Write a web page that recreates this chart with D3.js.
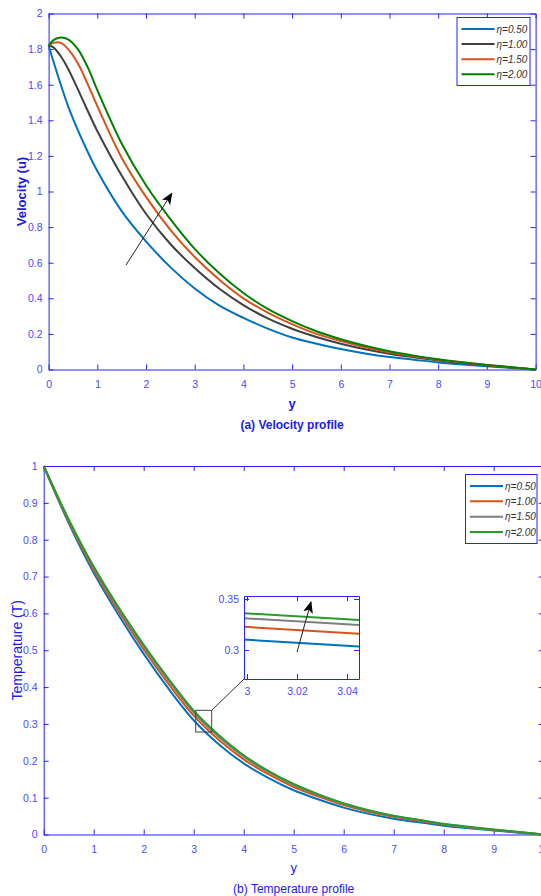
<!DOCTYPE html>
<html>
<head>
<meta charset="utf-8">
<script src="https://cdn.jsdelivr.net/npm/d3@7"></script>
<style>
  body { margin: 0; background: #fff; }
  svg { display: block; font-family: "Liberation Sans", Arial, Helvetica, sans-serif; }
</style>
</head>
<body>
<div id="chart"></div>
<script>
// ---------- data ----------
const etaLabels = ["η=0.50", "η=1.00", "η=1.50", "η=2.00"];

// (a) velocity profile
const velX = [0, 0.1, 0.25, 0.4, 0.6, 0.8, 1, 1.5, 2, 2.5, 3, 3.5, 4, 4.5, 5, 5.5, 6, 6.5, 7, 7.5, 8, 8.5, 9, 9.5, 10];
const velEta050 = [1.82, 1.73, 1.60, 1.48, 1.345, 1.225, 1.115, 0.89, 0.72, 0.575, 0.455, 0.36, 0.29, 0.23, 0.18, 0.145, 0.115, 0.09, 0.07, 0.055, 0.04, 0.028, 0.018, 0.009, 0];
const velEta100 = [1.82, 1.81, 1.76, 1.69, 1.575, 1.455, 1.34, 1.09, 0.875, 0.705, 0.57, 0.455, 0.362, 0.287, 0.229, 0.183, 0.145, 0.114, 0.089, 0.069, 0.051, 0.036, 0.023, 0.011, 0];
const velEta150 = [1.82, 1.835, 1.835, 1.80, 1.72, 1.605, 1.48, 1.19, 0.97, 0.785, 0.632, 0.506, 0.40, 0.32, 0.255, 0.20, 0.16, 0.125, 0.097, 0.074, 0.055, 0.039, 0.025, 0.012, 0];
const velEta200 = [1.82, 1.85, 1.865, 1.855, 1.80, 1.70, 1.57, 1.27, 1.035, 0.845, 0.678, 0.542, 0.43, 0.34, 0.272, 0.215, 0.17, 0.133, 0.102, 0.078, 0.058, 0.041, 0.026, 0.013, 0];
const velColors = ["#0072BD", "#404040", "#D95319", "#008000"];

// (b) temperature profile
const tempX = [0, 0.5, 1, 1.5, 2, 2.5, 3, 3.5, 4, 4.5, 5, 5.5, 6, 6.5, 7, 7.5, 8, 8.5, 9, 9.5, 10];
const tempEta050 = [1.0, 0.845, 0.71, 0.595, 0.49, 0.395, 0.31, 0.245, 0.193, 0.153, 0.12, 0.095, 0.073, 0.056, 0.043, 0.033, 0.024, 0.017, 0.011, 0.005, 0];
const tempEta100 = [1.0, 0.85, 0.718, 0.605, 0.502, 0.408, 0.3225, 0.257, 0.204, 0.163, 0.129, 0.103, 0.08, 0.062, 0.048, 0.037, 0.027, 0.019, 0.0125, 0.006, 0];
const tempEta150 = [1.0, 0.853, 0.724, 0.612, 0.51, 0.417, 0.331, 0.265, 0.211, 0.169, 0.134, 0.107, 0.083, 0.065, 0.05, 0.039, 0.028, 0.02, 0.013, 0.0065, 0];
const tempEta200 = [1.0, 0.855, 0.727, 0.616, 0.515, 0.422, 0.336, 0.27, 0.215, 0.172, 0.137, 0.109, 0.085, 0.066, 0.051, 0.04, 0.029, 0.021, 0.0135, 0.0068, 0];
const tempColors = ["#0072BD", "#D95319", "#7F7F7F", "#2B9A2B"];

// inset of (b)
const insetX = [2.998, 3.046];
const insetEta050 = [0.3103, 0.3033];
const insetEta100 = [0.3228, 0.3157];
const insetEta150 = [0.3313, 0.3242];
const insetEta200 = [0.3362, 0.3291];

// tick labels
const xTicks = [0, 1, 2, 3, 4, 5, 6, 7, 8, 9, 10];
const velYTicks = [0, 0.2, 0.4, 0.6, 0.8, 1, 1.2, 1.4, 1.6, 1.8, 2];
const tempYTicks = [0, 0.1, 0.2, 0.3, 0.4, 0.5, 0.6, 0.7, 0.8, 0.9, 1];
const insetXTicks = [3, 3.02, 3.04];
const insetYTicks = [0.3, 0.35];

// ---------- styles ----------
const AXIS = "#2323ff";
const TICKTXT = "#4a4aff";
const LABEL = "#1a1aee";

const svg = d3.select("#chart").append("svg")
  .attr("width", 541)
  .attr("height", 896);

const defs = svg.append("defs");
defs.append("marker")
  .attr("id", "head")
  .attr("viewBox", "0 0 12 10")
  .attr("refX", 11)
  .attr("refY", 5)
  .attr("markerWidth", 12)
  .attr("markerHeight", 10)
  .attr("markerUnits", "userSpaceOnUse")
  .attr("orient", "auto")
  .append("path")
  .attr("d", "M0,0 L12,5 L0,10 L3,5 Z")
  .attr("fill", "#000");

function styleAxis(sel, showText) {
  sel.select(".domain").attr("stroke", AXIS);
  sel.selectAll(".tick line").attr("stroke", AXIS);
  sel.selectAll(".tick text")
    .attr("fill", TICKTXT)
    .style("font-size", "10.5px")
    .style("display", showText ? null : "none");
}

function frame(x, y, xt, yt, pad) {
  const [x0, x1] = x.range();
  const [y0, y1] = y.range();
  const fmt = d3.format("~g");
  svg.append("g").attr("transform", `translate(0,${y0})`)
    .call(d3.axisBottom(x).tickValues(xt).tickFormat(fmt).tickSize(-5).tickSizeOuter(0).tickPadding(pad.x))
    .call(s => styleAxis(s, true));
  svg.append("g").attr("transform", `translate(0,${y1})`)
    .call(d3.axisTop(x).tickValues(xt).tickSize(-5).tickSizeOuter(0))
    .call(s => styleAxis(s, false));
  svg.append("g").attr("transform", `translate(${x0},0)`)
    .call(d3.axisLeft(y).tickValues(yt).tickFormat(fmt).tickSize(-5).tickSizeOuter(0).tickPadding(pad.y))
    .call(s => styleAxis(s, true));
  svg.append("g").attr("transform", `translate(${x1},0)`)
    .call(d3.axisRight(y).tickValues(yt).tickSize(-5).tickSizeOuter(0))
    .call(s => styleAxis(s, false));
}

function drawLines(g, xs, series, colors, x, y, width) {
  const line = d3.line()
    .x((d, i) => x(xs[i]))
    .y(d => y(d))
    .curve(d3.curveCatmullRom.alpha(0.5));
  g.selectAll("path.curve")
    .data(series)
    .join("path")
    .attr("class", "curve")
    .attr("fill", "none")
    .attr("stroke", (d, i) => colors[i])
    .attr("stroke-width", width)
    .attr("d", line);
}

function legend(x0, y0, w, h, rows, colors) {
  const g = svg.append("g");
  g.append("rect")
    .attr("x", x0 + 0.5).attr("y", y0 + 0.5)
    .attr("width", w).attr("height", h)
    .attr("fill", "#fff")
    .attr("stroke", AXIS);
  const step = (h - 10) / (rows.length - 1) * 0.78;
  const items = g.selectAll("g.item")
    .data(rows)
    .join("g")
    .attr("class", "item")
    .attr("transform", (d, i) => `translate(${x0 + 5},${y0 + 12 + i * step})`);
  items.append("line")
    .attr("x1", 0).attr("x2", 33)
    .attr("stroke", (d, i) => colors[i])
    .attr("stroke-width", 2);
  items.append("text")
    .attr("x", 35)
    .attr("dy", "0.35em")
    .attr("fill", "#333")
    .style("font-size", "10px")
    .style("font-style", "italic")
    .text(d => d);
}

// ================= (a) Velocity profile =================
const xV = d3.scaleLinear().domain([0, 10]).range([48.6, 535.6]);
const yV = d3.scaleLinear().domain([0, 2]).range([369.5, 13.5]);

frame(xV, yV, xTicks, velYTicks, { x: 11, y: 6 });

drawLines(svg.append("g"), velX, [velEta050, velEta100, velEta150, velEta200], velColors, xV, yV, 2);

svg.append("line")
  .attr("x1", xV(1.59)).attr("y1", yV(0.587))
  .attr("x2", xV(2.53)).attr("y2", yV(0.99))
  .attr("stroke", "#222").attr("stroke-width", 1)
  .attr("marker-end", "url(#head)");

legend(456.5, 17, 73, 68, etaLabels, velColors);

svg.append("text")
  .attr("transform", `translate(26,${(yV(0) + yV(2)) / 2}) rotate(-90)`)
  .attr("text-anchor", "middle")
  .attr("fill", LABEL)
  .style("font-size", "13px").style("font-weight", "bold")
  .text("Velocity (u)");

svg.append("text")
  .attr("x", (xV(0) + xV(10)) / 2).attr("y", 408)
  .attr("text-anchor", "middle")
  .attr("fill", LABEL)
  .style("font-size", "13px").style("font-weight", "bold")
  .text("y");

svg.append("text")
  .attr("x", (xV(0) + xV(10)) / 2).attr("y", 429)
  .attr("text-anchor", "middle")
  .attr("fill", LABEL)
  .style("font-size", "12px").style("font-weight", "bold")
  .text("(a) Velocity profile");

// ================= (b) Temperature profile =================
const xT = d3.scaleLinear().domain([0, 10]).range([43.7, 543.7]);
const yT = d3.scaleLinear().domain([0, 1]).range([834.5, 466]);

frame(xT, yT, xTicks, tempYTicks, { x: 11, y: 6 });

drawLines(svg.append("g"), tempX, [tempEta050, tempEta100, tempEta150, tempEta200], tempColors, xT, yT, 2);

legend(465, 474, 71.5, 69, etaLabels, tempColors);

// zoom box on the curves
const bx0 = xT(3.04), bx1 = xT(3.36), by0 = yT(0.337), by1 = yT(0.278);
svg.append("rect")
  .attr("x", bx0).attr("y", by0)
  .attr("width", bx1 - bx0).attr("height", by1 - by0)
  .attr("fill", "none").attr("stroke", "#444").attr("stroke-width", 1);

// inset axes
const xI = d3.scaleLinear().domain([2.9988, 3.0448]).range([244, 359]);
const yI = d3.scaleLinear().domain([0.2716, 0.3529]).range([679, 596]);

svg.append("line")
  .attr("x1", bx1).attr("y1", by0)
  .attr("x2", xI.range()[0]).attr("y2", yI.range()[0])
  .attr("stroke", "#333").attr("stroke-width", 1);

svg.append("rect")
  .attr("x", 244).attr("y", 596).attr("width", 115).attr("height", 83)
  .attr("fill", "#fff");

defs.append("clipPath").attr("id", "insetClip")
  .append("rect").attr("x", 244).attr("y", 596).attr("width", 115).attr("height", 83);

drawLines(svg.append("g").attr("clip-path", "url(#insetClip)"), insetX,
  [insetEta050, insetEta100, insetEta150, insetEta200], tempColors, xI, yI, 2);

frame(xI, yI, insetXTicks, insetYTicks, { x: 9, y: 5 });

svg.append("line")
  .attr("x1", xI(3.02)).attr("y1", yI(0.298))
  .attr("x2", xI(3.0256)).attr("y2", yI(0.347))
  .attr("stroke", "#222").attr("stroke-width", 1)
  .attr("marker-end", "url(#head)");

svg.append("text")
  .attr("transform", `translate(22,${(yT(0) + yT(1)) / 2}) rotate(-90)`)
  .attr("text-anchor", "middle")
  .attr("fill", LABEL)
  .style("font-size", "14px")
  .text("Temperature (T)");

svg.append("text")
  .attr("x", (xT(0) + xT(10)) / 2).attr("y", 872)
  .attr("text-anchor", "middle")
  .attr("fill", LABEL)
  .style("font-size", "13px")
  .text("y");

svg.append("text")
  .attr("x", (xT(0) + xT(10)) / 2).attr("y", 893)
  .attr("text-anchor", "middle")
  .attr("fill", LABEL)
  .style("font-size", "12px")
  .text("(b) Temperature profile");
</script>
</body>
</html>
